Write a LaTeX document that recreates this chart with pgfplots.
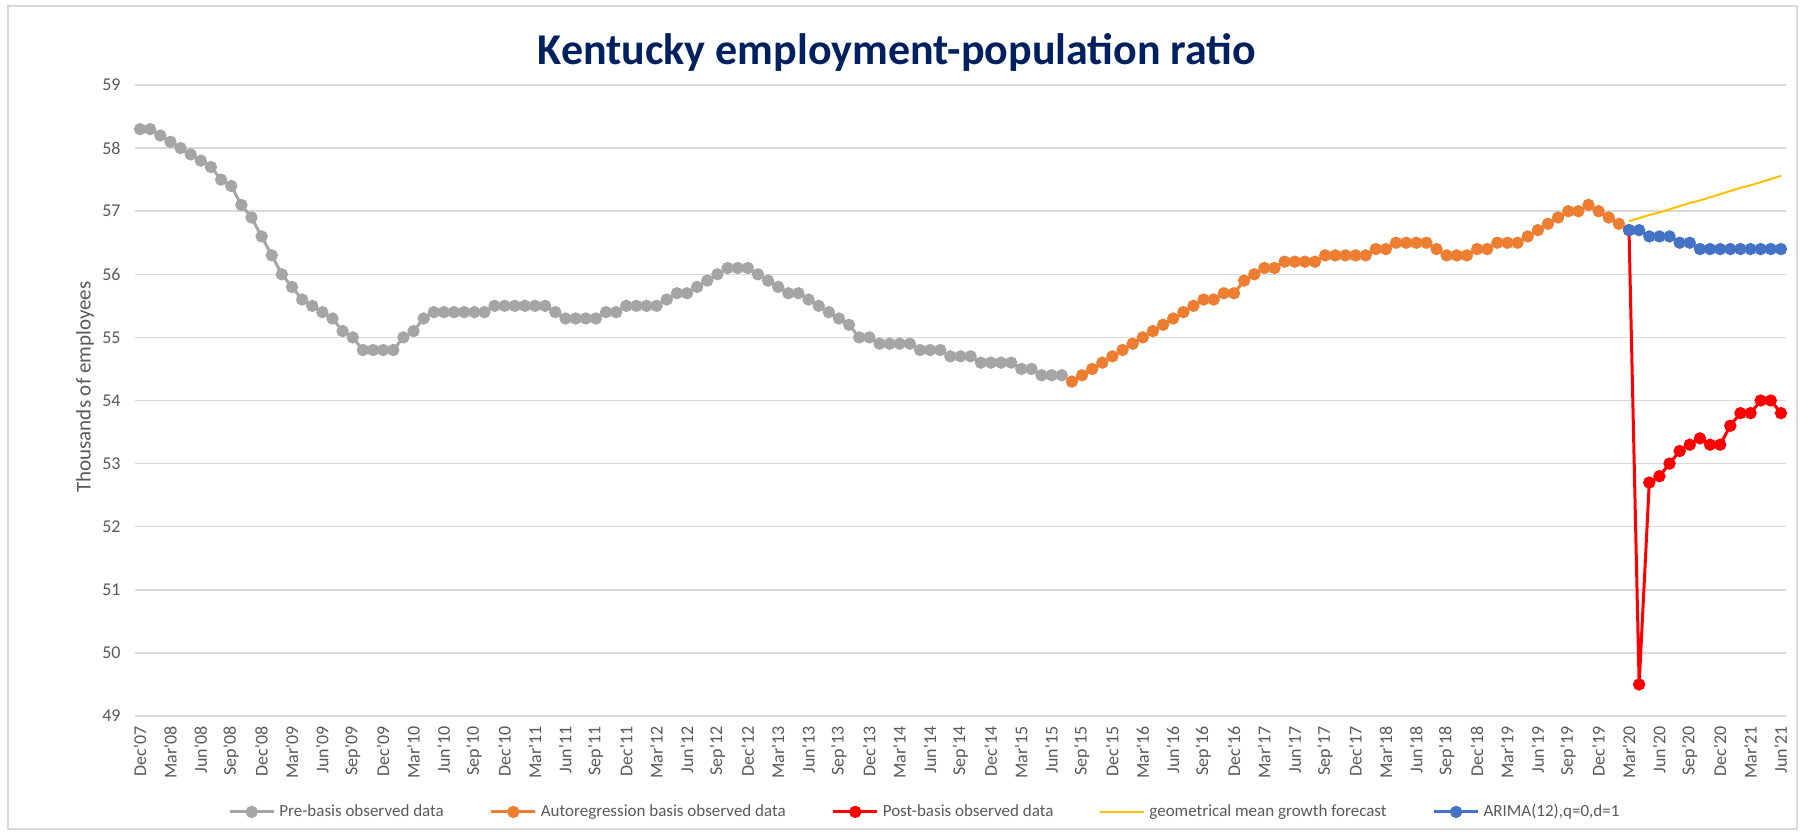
\documentclass[border=0pt]{standalone}
\usepackage{fontspec}
\setmainfont{Carlito}
\usepackage{pgfplots}
\pgfplotsset{compat=1.18}

\definecolor{pregray}{HTML}{A5A5A5}
\definecolor{basisorange}{HTML}{ED7D31}
\definecolor{postred}{HTML}{FF0000}
\definecolor{geomgold}{HTML}{FFC000}
\definecolor{arimablue}{HTML}{4472C4}
\definecolor{titlenavy}{HTML}{002060}
\definecolor{labelgray}{HTML}{595959}
\definecolor{gridgray}{HTML}{D9D9D9}

\newcommand{\q}{\textquotesingle}

\begin{document}
\begin{tikzpicture}
\path[use as bounding box] (0,0) rectangle (902pt,416pt);
\draw[gridgray, line width=0.75pt] (4pt,1.5pt) rectangle (898.5pt,413pt);
\node[font=\bfseries\fontsize{22}{26}\selectfont, text=titlenavy] at (448.5pt,390pt) {Kentucky employment-population ratio};
\node[rotate=90, font=\fontsize{10.5}{12}\selectfont, text=labelgray] at (42.5pt,222.5pt) {Thousands of employees};

\begin{axis}[
  at={(67.5pt,58pt)}, anchor=south west,
  scale only axis, width=825.5pt, height=315.5pt,
  xmin=-0.5, xmax=162.5, ymin=49, ymax=59,
  clip=false,
  axis line style={draw=none},
  major tick style={draw=none},
  ymajorgrids, grid style={gridgray, line width=0.75pt},
  ytick={49,50,...,59},
  /pgf/number format/assume math mode=true,
  yticklabel style={font=\fontsize{9}{11}\selectfont, text=labelgray, inner sep=0pt},
  yticklabel shift=7pt,
  xtick={0,3,...,162},
  xticklabels={Dec\q07,Mar\q08,Jun\q08,Sep\q08,Dec\q08,Mar\q09,Jun\q09,Sep\q09,Dec\q09,
    Mar\q10,Jun\q10,Sep\q10,Dec\q10,Mar\q11,Jun\q11,Sep\q11,Dec\q11,Mar\q12,Jun\q12,Sep\q12,
    Dec\q12,Mar\q13,Jun\q13,Sep\q13,Dec\q13,Mar\q14,Jun\q14,Sep\q14,Dec\q14,Mar\q15,Jun\q15,
    Sep\q15,Dec\q15,Mar\q16,Jun\q16,Sep\q16,Dec\q16,Mar\q17,Jun\q17,Sep\q17,Dec\q17,Mar\q18,
    Jun\q18,Sep\q18,Dec\q18,Mar\q19,Jun\q19,Sep\q19,Dec\q19,Mar\q20,Jun\q20,Sep\q20,Dec\q20,
    Mar\q21,Jun\q21},
  xticklabel style={rotate=90, anchor=east, font=\fontsize{9}{11}\selectfont, text=labelgray, inner sep=0pt},
  xticklabel shift=5pt,
  legend columns=-1,
  legend style={at={(0.479,-0.152)}, anchor=center, draw=none, fill=none,
    font=\fontsize{8.5}{10}\selectfont, text=labelgray,
    /tikz/every even column/.append style={column sep=21pt}},
  legend image code/.code={\draw[mark repeat=2,mark phase=2,#1] plot coordinates {(0pt,0pt)(11pt,0pt)(22pt,0pt)};},
  every axis plot/.append style={line width=1.5pt, mark size=2.3pt},
]

% pre-basis observed data, Dec'07 - Jul'15
\addplot[pregray, mark=*, mark options={draw=none, fill=pregray}] table {
x y
0 58.3
1 58.3
2 58.2
3 58.1
4 58.0
5 57.9
6 57.8
7 57.7
8 57.5
9 57.4
10 57.1
11 56.9
12 56.6
13 56.3
14 56.0
15 55.8
16 55.6
17 55.5
18 55.4
19 55.3
20 55.1
21 55.0
22 54.8
23 54.8
24 54.8
25 54.8
26 55.0
27 55.1
28 55.3
29 55.4
30 55.4
31 55.4
32 55.4
33 55.4
34 55.4
35 55.5
36 55.5
37 55.5
38 55.5
39 55.5
40 55.5
41 55.4
42 55.3
43 55.3
44 55.3
45 55.3
46 55.4
47 55.4
48 55.5
49 55.5
50 55.5
51 55.5
52 55.6
53 55.7
54 55.7
55 55.8
56 55.9
57 56.0
58 56.1
59 56.1
60 56.1
61 56.0
62 55.9
63 55.8
64 55.7
65 55.7
66 55.6
67 55.5
68 55.4
69 55.3
70 55.2
71 55.0
72 55.0
73 54.9
74 54.9
75 54.9
76 54.9
77 54.8
78 54.8
79 54.8
80 54.7
81 54.7
82 54.7
83 54.6
84 54.6
85 54.6
86 54.6
87 54.5
88 54.5
89 54.4
90 54.4
91 54.4
};
\addlegendentry{Pre-basis observed data}

% autoregression basis, Aug'15 - Feb'20
\addplot[basisorange, mark=*, mark options={draw=none, fill=basisorange}] table {
x y
92 54.3
93 54.4
94 54.5
95 54.6
96 54.7
97 54.8
98 54.9
99 55.0
100 55.1
101 55.2
102 55.3
103 55.4
104 55.5
105 55.6
106 55.6
107 55.7
108 55.7
109 55.9
110 56.0
111 56.1
112 56.1
113 56.2
114 56.2
115 56.2
116 56.2
117 56.3
118 56.3
119 56.3
120 56.3
121 56.3
122 56.4
123 56.4
124 56.5
125 56.5
126 56.5
127 56.5
128 56.4
129 56.3
130 56.3
131 56.3
132 56.4
133 56.4
134 56.5
135 56.5
136 56.5
137 56.6
138 56.7
139 56.8
140 56.9
141 57.0
142 57.0
143 57.1
144 57.0
145 56.9
146 56.8
};
\addlegendentry{Autoregression basis observed data}

% post-basis observed data
\addplot[postred, mark=*, mark options={draw=none, fill=postred}] table {
x y
147 56.7
148 49.5
149 52.7
150 52.8
151 53.0
152 53.2
153 53.3
154 53.4
155 53.3
156 53.3
157 53.6
158 53.8
159 53.8
160 54.0
161 54.0
162 53.8
};
\addlegendentry{Post-basis observed data}

% geometrical mean growth forecast
\addplot[geomgold, line width=1pt, no marks] table {
x y
147 56.84
148 56.89
149 56.94
150 56.98
151 57.03
152 57.08
153 57.13
154 57.17
155 57.22
156 57.27
157 57.32
158 57.37
159 57.41
160 57.46
161 57.51
162 57.56
};
\addlegendentry{geometrical mean growth forecast}

% ARIMA forecast
\addplot[arimablue, mark=*, mark options={draw=none, fill=arimablue}] table {
x y
147 56.7
148 56.7
149 56.6
150 56.6
151 56.6
152 56.5
153 56.5
154 56.4
155 56.4
156 56.4
157 56.4
158 56.4
159 56.4
160 56.4
161 56.4
162 56.4
};
\addlegendentry{ARIMA(12),q=0,d=1}

\end{axis}
\end{tikzpicture}
\end{document}
